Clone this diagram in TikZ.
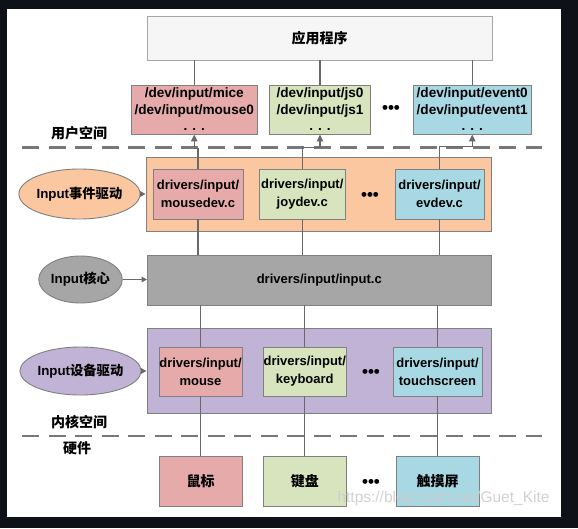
\documentclass[tikz,border=0pt]{standalone}
\usepackage{fontspec}
\setmainfont{Liberation Sans}
\newfontfamily\cjk{Noto Sans CJK SC}
\usetikzlibrary{shapes.geometric,arrows.meta}
\definecolor{bgdark}{RGB}{14,17,24}
\definecolor{bordergray}{RGB}{128,128,128}
\definecolor{linegray}{RGB}{105,105,105}
\definecolor{appfill}{RGB}{246,246,246}
\definecolor{pinkf}{RGB}{230,170,170}
\definecolor{greenf}{RGB}{215,228,189}
\definecolor{bluef}{RGB}{168,216,228}
\definecolor{orangef}{RGB}{251,199,160}
\definecolor{grayf}{RGB}{166,166,166}
\definecolor{purplef}{RGB}{193,179,213}
\definecolor{wmark}{RGB}{205,205,205}
\tikzset{
  box/.style={draw=bordergray, line width=0.9pt, inner sep=0pt, align=center,
    font=\bfseries\fontsize{13}{18}\selectfont},
  devbox/.style={box, font=\bfseries\fontsize{13.6}{16.5}\selectfont},
  cjkbox/.style={box, font=\cjk\bfseries\fontsize{14}{16}\selectfont},
  oval/.style={ellipse, draw=bordergray, line width=0.9pt, inner sep=0pt,
    font=\bfseries\fontsize{13.3}{16}\selectfont},
  conn/.style={draw=linegray, line width=1.4pt},
  arr/.style={conn, -{Triangle[width=6.5pt,length=7pt]}},
  sarr/.style={conn, -{Triangle[width=5.5pt,length=5.5pt]}},
  sep/.style={draw=linegray!90, line width=2.2pt, dash pattern=on 17pt off 9.5pt},
  lbl/.style={font=\cjk\bfseries\fontsize{14}{16}\selectfont, inner sep=0pt},
  dots/.style={font=\bfseries\fontsize{17}{18}\selectfont, inner sep=0pt}
}
\begin{document}
\begin{tikzpicture}[x=1pt,y=-1pt]
\useasboundingbox (0,0) rectangle (578,528);
\fill[bgdark] (0,0) rectangle (578,528);
\fill[white] (7,9) rectangle (561,517);

% separators
\coordinate (s1a) at (22,147.5); \coordinate (s1b) at (542,147.5);
\coordinate (s2a) at (22,436);   \coordinate (s2b) at (542,436);
\draw[sep] (s1a) -- (s1b);
\draw[sep] (s2a) -- (s2b);

% user space
\node[cjkbox, fill=appfill, draw={rgb,255:red,165;green,165;blue,165}, minimum width=345pt, minimum height=44pt] (app) at (319.5,38) {应用程序};
\node[devbox, fill=pinkf, minimum width=125.5pt, minimum height=49pt] (mice) at (194.25,109.5) {/dev/input/mice\\/dev/input/mouse0\\. . .};
\node[devbox, fill=greenf, minimum width=101pt, minimum height=49pt] (js) at (320,109.5) {/dev/input/js0\\/dev/input/js1\\. . .};
\node[devbox, fill=bluef, minimum width=118.5pt, minimum height=49pt] (event) at (472.25,109.5) {/dev/input/event0\\/dev/input/event1\\. . .};
\node[dots] (d1) at (391,109) {•••};
\node[lbl] (user) at (79,133) {用户空间};

% event handler layer
\node[box, fill=orangef, minimum width=345pt, minimum height=74pt] (evl) at (318.5,194) {};
\node[box, fill=pinkf, minimum width=90pt, minimum height=50pt] (mousedev) at (198,194) {drivers/input/\\mousedev.c};
\node[box, fill=greenf, minimum width=85.5pt, minimum height=50pt] (joydev) at (302.25,194) {drivers/input/\\joydev.c};
\node[box, fill=bluef, minimum width=89pt, minimum height=50pt] (evdev) at (439.5,194) {drivers/input/\\evdev.c};
\node[dots] (d2) at (370,196) {•••};
\node[oval, fill=orangef, minimum width=103pt, minimum height=50pt] (oev) at (79.5,194) {Input{\cjk 事件驱动}};

% core
\node[box, fill=grayf, minimum width=343.5pt, minimum height=50pt] (core) at (319.25,280) {drivers/input/input.c};
\node[oval, fill=grayf, minimum width=82pt, minimum height=47pt] (ocore) at (80.5,279.5) {Input{\cjk 核心}};

% device driver layer
\node[box, fill=purplef, minimum width=344pt, minimum height=85pt] (dvl) at (319,370.5) {};
\node[box, fill=pinkf, minimum width=83pt, minimum height=49pt] (mouse) at (200.5,371.5) {drivers/input/\\mouse};
\node[box, fill=greenf, minimum width=83.5pt, minimum height=49pt] (kbd) at (304.75,371.5) {drivers/input/\\keyboard};
\node[box, fill=bluef, minimum width=89pt, minimum height=49pt] (touch) at (437.5,371.5) {drivers/input/\\touchscreen};
\node[dots] (d3) at (371,373) {•••};
\node[oval, fill=purplef, minimum width=101pt, minimum height=48pt] (odev) at (80.5,371) {Input{\cjk 设备驱动}};
\node[lbl] (kernel) at (79,422) {内核空间};
\node[lbl] (hw) at (77,448) {硬件};

% hardware
\node[cjkbox, fill=pinkf, minimum width=83pt, minimum height=50pt] (hmouse) at (200.5,481) {鼠标};
\node[cjkbox, fill=greenf, minimum width=83.5pt, minimum height=50pt] (hkbd) at (304.75,481) {键盘};
\node[cjkbox, fill=bluef, minimum width=83pt, minimum height=50pt] (htouch) at (437.5,481) {触摸屏};
\node[dots] (d4) at (371,483) {•••};

% connectors
\draw[conn] (mice.north) -- (mice.north |- app.south);
\draw[conn] (js.north) -- (js.north |- app.south);
\draw[conn] (event.north) -- (event.north |- app.south);
\draw[arr] (mousedev.north) -- ++(0,-20) -| (mice.south);
\draw[arr] (joydev.north) -- ++(0,-21) -| (js.south);
\draw[arr] (evdev.north) -- ++(0,-22) -| (event.south);
\draw[conn] (mousedev.south) -- (mousedev.south |- core.north);
\draw[conn] (joydev.south) -- (joydev.south |- core.north);
\draw[conn] (evdev.south) -- (evdev.south |- core.north);
\draw[conn] (mouse.north |- core.south) -- (mouse.north);
\draw[conn] (kbd.north |- core.south) -- (kbd.north);
\draw[conn] (touch.north |- core.south) -- (touch.north);
\draw[conn] (mouse.south) -- (hmouse.north);
\draw[conn] (kbd.south) -- (hkbd.north);
\draw[conn] (touch.south) -- (htouch.north);
\draw[sarr] (oev.east) -- (oev.east -| evl.west);
\draw[sarr] (ocore.east) -- (ocore.east -| core.west);
\draw[sarr] (odev.east) -- (odev.east -| dvl.west);

% watermark
\node[text=wmark, opacity=0.9, font=\fontsize{15.5}{17}\selectfont, inner sep=0pt] (wm) at (443.5,498) {https://blog.csdn.net/Guet\_Kite};
\end{tikzpicture}
\end{document}
